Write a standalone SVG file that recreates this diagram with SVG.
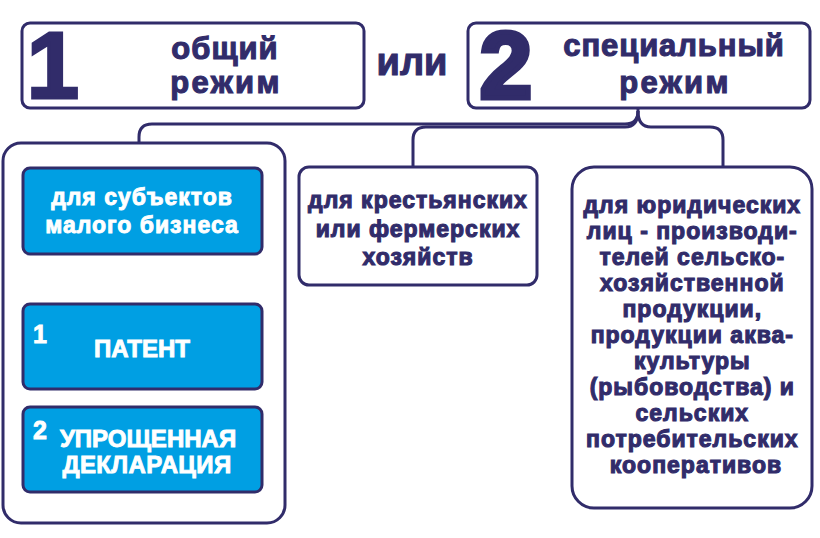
<svg xmlns="http://www.w3.org/2000/svg" width="820" height="538" viewBox="0 0 820 538">
<style>
.box{fill:#ffffff;stroke:#312c6a;stroke-width:3}
.blue{fill:#009fe3;stroke:#312c6a;stroke-width:3}
.t{font-family:"Liberation Sans",Arial,sans-serif;font-weight:bold;text-anchor:middle}
.dk{fill:#312c6a;stroke:#312c6a;stroke-width:1.1}
.wh{fill:#ffffff;stroke:#ffffff;stroke-width:0.9}
.big{font-size:94px;stroke-width:5;stroke-linejoin:miter}
.s23{font-size:23px;letter-spacing:1px}
.conn{fill:none;stroke:#312c6a;stroke-width:3}
</style>
<rect width="820" height="538" fill="#ffffff"/>
<g id="connectors">
<path class="conn" d="M638,108 L638,111 Q638,124 625,124 L152,124 Q139,124 139,137 L139,143"/>
<path class="conn" d="M638,111 Q638,127 651,127 L710,127 Q723,127 723,140 L723,167"/>
<path class="conn" d="M638,111 Q638,127 625,127 L426,127 Q413,127 413,140 L413,167"/>
</g>
<g id="node-general">
<rect class="box" x="22" y="23" width="342" height="85" rx="8"/>
<text class="t dk big" x="53" y="98" style="stroke-width:3">1</text>
<text class="t dk" x="225" y="59" font-size="31" letter-spacing="1">общий</text>
<text class="t dk" x="226" y="93" font-size="31" letter-spacing="2.4">режим</text>
</g>
<g id="node-or">
<text class="t dk" x="412" y="75" font-size="38">или</text>
</g>
<g id="node-special">
<rect class="box" x="468" y="23" width="342" height="85" rx="8"/>
<text class="t dk big" x="506" y="98">2</text>
<text class="t dk" x="674" y="56" font-size="31" letter-spacing="0.9">специальный</text>
<text class="t dk" x="675" y="93" font-size="31" letter-spacing="2.4">режим</text>
</g>
<g id="node-small-business">
<rect class="box" x="3" y="143" width="282" height="380" rx="18"/>
<rect class="blue" x="23" y="168" width="239" height="86" rx="7"/>
<text class="t wh s23" x="142" y="205" letter-spacing="1.3">для субъектов</text>
<text class="t wh s23" x="142" y="233" letter-spacing="1.5">малого бизнеса</text>
</g>
<g id="node-patent">
<rect class="blue" x="23" y="304" width="239" height="85" rx="7"/>
<text class="t wh" x="40" y="343" font-size="25">1</text>
<text class="t wh" x="142" y="357" font-size="24">ПАТЕНТ</text>
</g>
<g id="node-declaration">
<rect class="blue" x="23" y="407" width="239" height="85" rx="7"/>
<text class="t wh" x="40" y="439" font-size="25">2</text>
<text class="t wh" x="148" y="447" font-size="24">УПРОЩЕННАЯ</text>
<text class="t wh" x="147" y="473" font-size="24" letter-spacing="0.4">ДЕКЛАРАЦИЯ</text>
</g>
<g id="node-farms">
<rect class="box" x="299" y="167" width="238" height="118" rx="10"/>
<text class="t dk s23" x="418" y="208" letter-spacing="0.6">для крестьянских</text>
<text class="t dk s23" x="418" y="237" letter-spacing="0.8">или фермерских</text>
<text class="t dk s23" x="418" y="265">хозяйств</text>
</g>
<g id="node-legal">
<rect class="box" x="572" y="167" width="240" height="341" rx="22"/>
<text class="t dk s23">
<tspan x="696" y="213">для юридических</tspan>
<tspan x="696" y="239">лиц - производи-</tspan>
<tspan x="696" y="265">телей сельско-</tspan>
<tspan x="696" y="291">хозяйственной</tspan>
<tspan x="696" y="317">продукции,</tspan>
<tspan x="696" y="343">продукции аква-</tspan>
<tspan x="696" y="369">культуры</tspan>
<tspan x="696" y="395">(рыбоводства) и</tspan>
<tspan x="696" y="421">сельских</tspan>
<tspan x="696" y="447">потребительских</tspan>
<tspan x="696" y="473">кооперативов</tspan>
</text>
</g>
</svg>
